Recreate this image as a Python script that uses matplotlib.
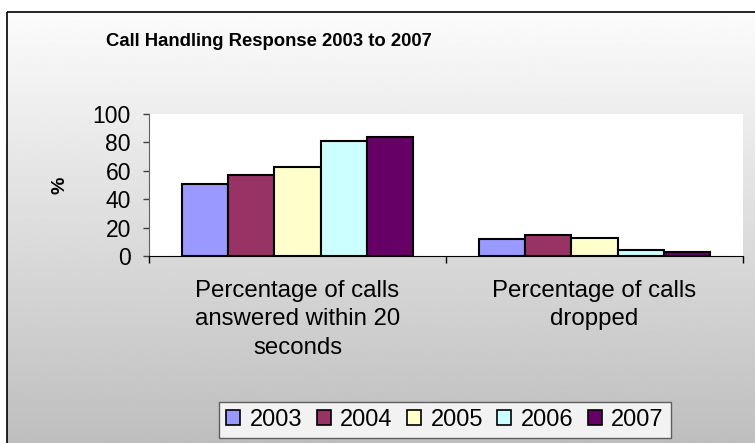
import numpy as np
import matplotlib.pyplot as plt
from matplotlib.patches import Rectangle

plt.rcParams['font.family'] = ['Liberation Sans', 'DejaVu Sans']

categories = ['Percentage of calls\nanswered within 20\nseconds', 'Percentage of calls\ndropped']
years = ['2003', '2004', '2005', '2006', '2007']
values = {
    '2003': [51, 12],
    '2004': [57, 15],
    '2005': [63, 13],
    '2006': [81, 4],
    '2007': [84, 3],
}
colors = ['#9999FF', '#993366', '#FFFFCC', '#CCFFFF', '#660066']
yticks = [0, 20, 40, 60, 80, 100]

W, H = 755, 443
fig = plt.figure(figsize=(W / 100, H / 100), dpi=100, facecolor='white')

# chart area: grey vertical gradient inside a black frame
bg = fig.add_axes([0, 0, 1, 1], zorder=-2)
bg.set_xlim(0, W)
bg.set_ylim(H, 0)
bg.axis('off')
grad = np.linspace(0.985, 0.745, 256).reshape(-1, 1)
bg.imshow(grad, cmap='gray', vmin=0, vmax=1, aspect='auto',
          extent=(7, W + 5, H + 2, 12), interpolation='bilinear')
bg.add_patch(Rectangle((7, 12), W, H, fill=False, edgecolor='black', linewidth=1.2))

ax = fig.add_axes([149 / W, 1 - 256 / H, (743 - 149) / W, (256 - 114) / H])
ax.set_facecolor('white')

x = np.arange(len(categories))
width = 0.155
for i, (yr, c) in enumerate(zip(years, colors)):
    ax.bar(x + (i - 2) * width, values[yr], width, color=c, edgecolor='black',
           linewidth=1.5, label=yr, zorder=3)

ax.set_xlim(-0.5, len(categories) - 0.5)
ax.set_ylim(0, 100)
ax.set_yticks(yticks)
ax.set_yticklabels([str(t) for t in yticks], fontsize=16.5)
ax.tick_params(axis='y', direction='out', length=4, width=1, color='#404040', pad=9)

ax.set_xticks(x)
ax.set_xticklabels(categories, fontsize=17.3, linespacing=1.38, va='top')
ax.tick_params(axis='x', length=0, pad=17)
ax.set_xticks([-0.5, 0.5, 1.5], minor=True)
ax.tick_params(axis='x', which='minor', direction='out', length=5, width=1, color='black')

for s in ['top', 'right']:
    ax.spines[s].set_visible(False)
ax.spines['left'].set_color('#606060')
ax.spines['bottom'].set_color('black')

fig.text(60 / W, 1 - 185 / H, '%', rotation=90, fontsize=14, fontweight='bold',
         ha='center', va='center')
fig.text(269 / W, 1 - 42 / H, 'Call Handling Response 2003 to 2007', fontsize=13.3,
         fontweight='bold', ha='center', va='center')

leg = fig.legend(loc='center', bbox_to_anchor=(445 / W, 1 - 420 / H), ncol=5,
                 fontsize=17, frameon=True, fancybox=False, handlelength=0.6,
                 handleheight=0.6, handletextpad=0.4, columnspacing=0.6,
                 borderpad=0.3)
leg.get_frame().set_edgecolor('#404040')
leg.get_frame().set_linewidth(1)
for h in leg.legend_handles:
    h.set_linewidth(1.2)

fig.savefig('out.png', dpi=100)
